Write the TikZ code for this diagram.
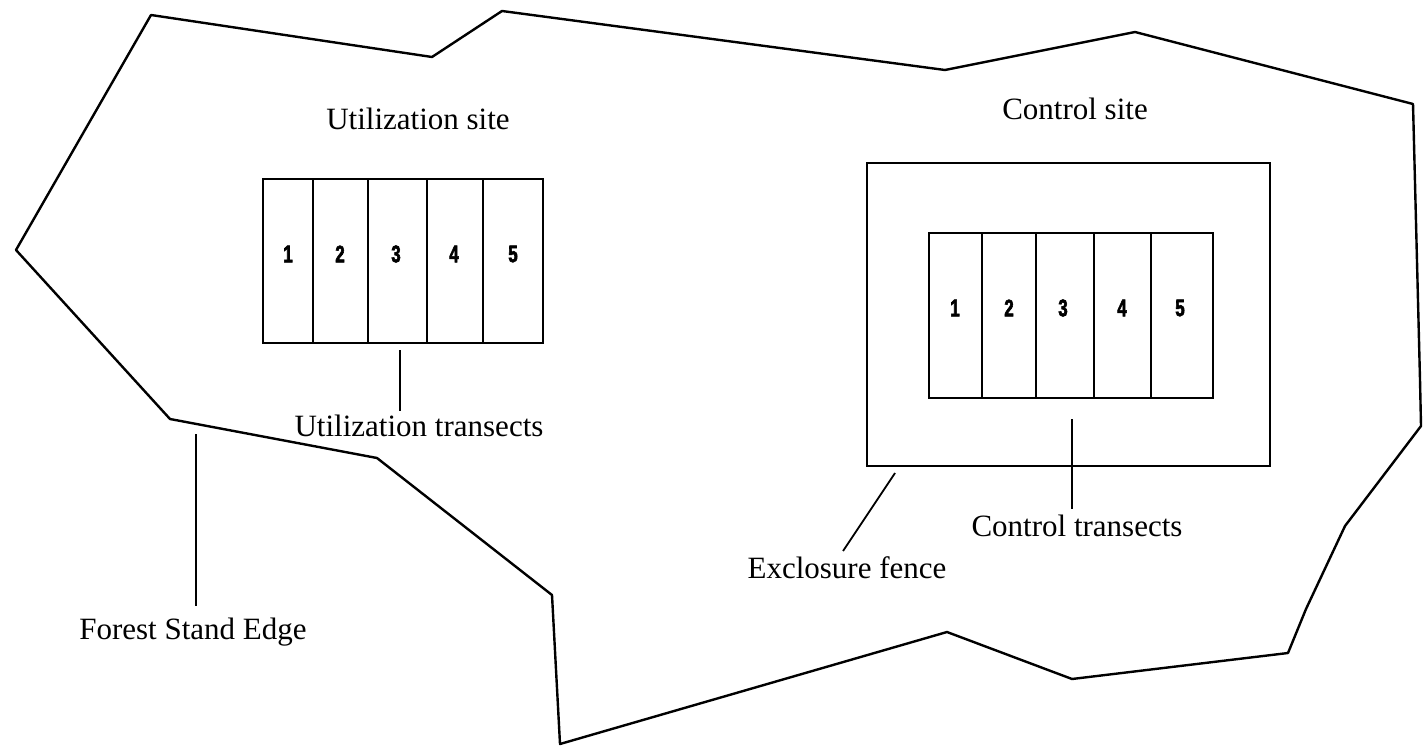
\documentclass[tikz,border=0pt]{standalone}
\usepackage{fontspec}
\setmainfont{Liberation Serif}
\newfontfamily\digitfont[FakeStretch=0.7,FakeBold=2.5]{Liberation Sans Bold}
\begin{document}
\begin{tikzpicture}[x=1pt,y=-1pt,
  edge/.style={line width=2.4pt,line join=round},
  boxline/.style={line width=2.4pt},
  leader/.style={line width=1.8pt},
  lbl/.style={font=\fontsize{31}{31}\selectfont,inner sep=0pt,anchor=base},
  digit/.style={font=\digitfont\fontsize{24}{24}\selectfont,inner sep=0pt}]
\useasboundingbox (0,0) rectangle (1426,751);
% forest stand edge polygon
\draw[edge] (151,15) -- (432,57) -- (502,11) -- (945,70) -- (1135,32) -- (1413,104)
  -- (1420,380) -- (1421,426) -- (1345,526) -- (1306,609) -- (1288,653)
  -- (1072,679) -- (947,632) -- (560,744) -- (552,595) -- (377,458)
  -- (170,419) -- (16,250) -- cycle;
% utilization transects
\draw[boxline] (263,179) rectangle (543,343);
\foreach \x in {313,368,427,483} \draw[boxline] (\x,179) -- (\x,343);
\foreach \x/\n in {288/1,340/2,396/3,454/4,513/5} \node[digit] (u\n) at (\x,254) {\n};
% exclosure fence and control transects
\draw[boxline] (867,163) rectangle (1270,466);
\draw[boxline] (929,233) rectangle (1213,398);
\foreach \x in {982,1036,1094,1151} \draw[boxline] (\x,233) -- (\x,398);
\foreach \x/\n in {955/1,1009/2,1063/3,1122/4,1180/5} \node[digit] (c\n) at (\x,308) {\n};
% labels
\node[lbl] (usite) at (418,130) {Utilization site};
\node[lbl] (csite) at (1075,120) {Control site};
\node[lbl] (utr) at (419,436) {Utilization transects};
\node[lbl] (fse) at (193,639) {Forest Stand Edge};
\node[lbl] (ctr) at (1077,536) {Control transects};
\node[lbl] (exf) at (847,578) {Exclosure fence};
% leaders
\coordinate (utop) at (400,350);
\coordinate (ftop) at (196,434);
\coordinate (ctop) at (1072,419);
\coordinate (etop) at (895,473);
\draw[leader] (utop) -- (utop |- 0,411);
\draw[leader] (ftop) -- (ftop |- 0,606);
\draw[leader] (ctop) -- (ctop |- 0,509);
\draw[leader] (etop) -- (843,551);
\end{tikzpicture}
\end{document}
